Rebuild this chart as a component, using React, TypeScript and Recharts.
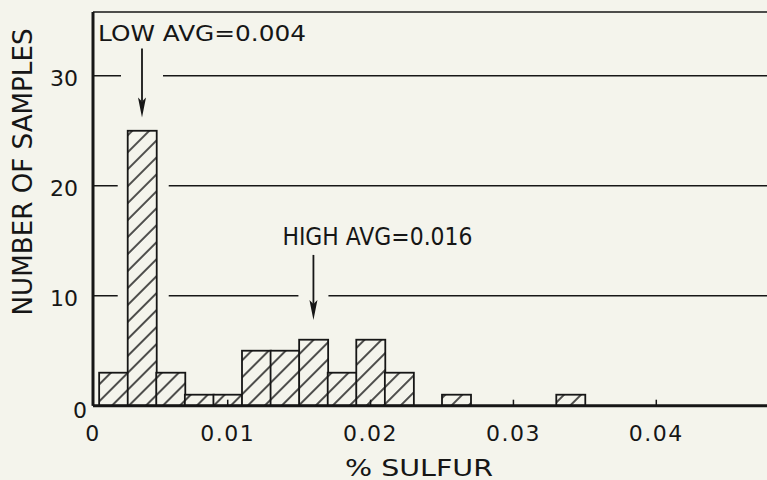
import React from 'react';
import { BarChart, Bar, XAxis, YAxis, CartesianGrid, ReferenceDot } from 'recharts';

// histogram bins (centre of each 0.002 wide class) and counts
const BIN_CENTERS = [0.002, 0.004, 0.006, 0.008, 0.010, 0.012, 0.014, 0.016, 0.018, 0.020, 0.022, 0.024, 0.026, 0.028, 0.030, 0.032, 0.034];
const SAMPLE_COUNTS = [3, 25, 3, 1, 1, 5, 5, 6, 3, 6, 3, 0, 1, 0, 0, 0, 1];
const X_TICKS = [0, 0.01, 0.02, 0.03, 0.04];
const Y_TICKS = [0, 10, 20, 30];
const AVG_LABELS = ['LOW AVG=0.004', 'HIGH AVG=0.016'];
const AVG_VALUES = [0.004, 0.016];
const ARROW_TIPS = [26.2, 7.8];

const X_MIN = 0.00057;
const X_MAX = 0.04775;
const Y_MAX = 35.8;

const INK = '#161616';
const PAPER = '#f4f4ec';
const FONT = '"DejaVu Sans", sans-serif';

const ARROW_STYLE = [
  { dx: -44, textUp: 77, fontSize: 21, textLength: 208, arrowLen: 69, gap: 21 },
  { dx: -31, textUp: 75, fontSize: 24, textLength: 190, arrowLen: 65, gap: 15 },
];

const data = BIN_CENTERS.map((x, i) => ({ x, count: SAMPLE_COUNTS[i] }));

const HatchBar = (props: any) => {
  const { x, y, width, height } = props;
  if (!height || height <= 0) return <g />;
  return (
    <g>
      {height > 100 && <rect x={x - 10} y={y} width={width + 22} height={height - 45} fill={PAPER} />}
      <rect x={x} y={y} width={width} height={height} fill="url(#hatch)" stroke={INK} strokeWidth={1.8} />
    </g>
  );
};

const avgArrow = (i: number) => (props: any) => {
  const { cx, cy } = props;
  const s = ARROW_STYLE[i];
  const tail = cy - s.arrowLen;
  return (
    <g>
      <rect x={cx - s.gap} y={tail} width={s.gap * 2} height={s.arrowLen} fill={PAPER} />
      <line x1={cx} y1={tail} x2={cx} y2={cy - 16} stroke={INK} strokeWidth={1.8} />
      <polygon points={`${cx},${cy} ${cx - 4},${cy - 20} ${cx},${cy - 16} ${cx + 4},${cy - 20}`} fill={INK} />
      <text x={cx + s.dx} y={cy - s.textUp} fontSize={s.fontSize} textLength={s.textLength}
        lengthAdjust="spacingAndGlyphs" fill={INK} fontFamily={FONT}>{AVG_LABELS[i]}</text>
    </g>
  );
};

const XTick = (props: any) => {
  const { x, y, payload } = props;
  const label = payload.value <= X_MIN ? '0' : String(payload.value);
  return (
    <text x={x} y={y + 16} textAnchor="middle" fontSize={22} letterSpacing={1.5} fill={INK} fontFamily={FONT}>
      {label}
    </text>
  );
};

const YTick = (props: any) => {
  const { x, y, payload } = props;
  const zero = payload.value === 0;
  return (
    <text x={x + (zero ? 9 : 0)} y={y + (zero ? 5 : 3)} textAnchor="end" dominantBaseline="central"
      fontSize={22} fill={INK} fontFamily={FONT}>{payload.value}</text>
  );
};

const YTitle = (props: any) => {
  const vb = props.viewBox || { x: 0, y: 12 };
  const cx = vb.x + 22;
  const cy = vb.y + 160;
  return (
    <text x={cx} y={cy} transform={`rotate(-90 ${cx} ${cy})`} textAnchor="middle" dominantBaseline="central"
      fontSize={27} textLength={287} lengthAdjust="spacingAndGlyphs" fill={INK} fontFamily={FONT}>
      NUMBER OF SAMPLES
    </text>
  );
};

const XTitle = (props: any) => {
  const vb = props.viewBox || { x: 93, y: 405.7 };
  return (
    <text x={vb.x + 326} y={vb.y + 70} textAnchor="middle" fontSize={23} textLength={148}
      lengthAdjust="spacingAndGlyphs" fill={INK} fontFamily={FONT}>
      % SULFUR
    </text>
  );
};

export default function App() {
  return (
    <div style={{ position: 'absolute', left: 0, top: 0, width: 767, height: 480, background: PAPER }}>
      <BarChart width={767} height={480} data={data} margin={{ top: 12, right: 0, bottom: 0, left: 0 }}
        barCategoryGap={0} barGap={0}>
        <defs>
          <pattern id="hatch" width="12" height="12" patternUnits="userSpaceOnUse" patternTransform="rotate(45)">
            <rect width="12" height="12" fill={PAPER} />
            <line x1="6" y1="0" x2="6" y2="12" stroke={INK} strokeWidth={1.5} />
          </pattern>
        </defs>
        <CartesianGrid horizontal vertical={false} stroke={INK} strokeWidth={1.6} />
        <Bar dataKey="count" shape={HatchBar} isAnimationActive={false} />
        {AVG_VALUES.map((v, i) => (
          <ReferenceDot key={i} x={v} y={ARROW_TIPS[i]} shape={avgArrow(i)} />
        ))}
        <XAxis type="number" dataKey="x" domain={[X_MIN, X_MAX]} allowDataOverflow
          ticks={X_TICKS.map((t) => Math.max(t, X_MIN))}
          height={74.3} axisLine={{ stroke: INK, strokeWidth: 3 }} tickLine={{ stroke: INK, strokeWidth: 1.5 }}
          tickSize={-6} tickMargin={25} tick={<XTick />}
          label={<XTitle />} />
        <YAxis type="number" domain={[0, Y_MAX]} ticks={Y_TICKS} allowDataOverflow width={93}
          axisLine={{ stroke: INK, strokeWidth: 3 }} tickLine={false} tickSize={0} tickMargin={15}
          tick={<YTick />} label={<YTitle />} />
      </BarChart>
    </div>
  );
}
